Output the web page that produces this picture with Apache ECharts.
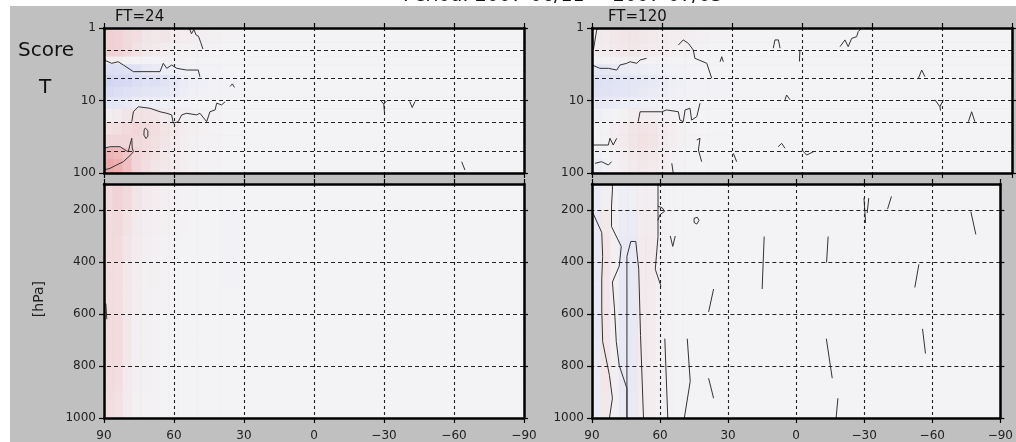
<!DOCTYPE html>
<html><head><meta charset="utf-8">
<script src="https://cdn.jsdelivr.net/npm/echarts@6/dist/echarts.min.js"></script>
<style>html,body{margin:0;padding:0;background:#fff}#c{width:1016px;height:442px}</style>
</head><body><div id="c"></div>
<script>
// ---------------- data ----------------
const titleText = 'Period: 2007-06/11 ~ 2007-07/03';
const panelTitles = ['FT=24', 'FT=120'];
const xTicks = [90, 60, 30, 0, -30, -60, -90];
const upperGridP = [2, 5, 10, 20, 50];
const lowerGridP = [200, 400, 600, 800];
const lowerLabels = [200, 400, 600, 800, 1000];

// cell edges (latitude, pressure hPa)
const latEdges = [90, 86, 82, 78, 74, 70, 66, 62, 58, 54, 50, 45, 40, 30, -90];
const upperEdges = [1, 1.6, 2.5, 3.2, 4.5, 6.5, 9, 13, 20, 30, 45, 65, 100];
const lowerEdges = [100, 200, 300, 400, 500, 600, 700, 800, 900, 1000];

// score field (positive = red, negative = blue), rows top->bottom, columns 90N -> 90S
const ft24Upper = [
  [0.30,0.28,0.22,0.18,0.12,0.10,0.12,0.08,0.05,0.05,0.04,0.03,0.02,0.01],
  [0.30,0.28,0.22,0.15,0.10,0.08,0.06,0.04,0.03,0.03,0.02,0.02,0.01,0.01],
  [0.05,0.05,0.02,0.00,-0.02,0.00,0.02,0.02,0.02,0.01,0.01,0.01,0.00,0.00],
  [-0.30,-0.30,-0.28,-0.25,-0.15,-0.12,-0.10,-0.08,-0.05,-0.03,-0.02,-0.01,0.00,0.00],
  [-0.45,-0.40,-0.38,-0.32,-0.28,-0.30,-0.25,-0.18,-0.12,-0.08,-0.05,-0.03,-0.01,0.00],
  [-0.35,-0.32,-0.28,-0.25,-0.22,-0.20,-0.18,-0.14,-0.10,-0.06,-0.04,-0.02,-0.01,0.00],
  [-0.20,-0.18,-0.15,-0.10,-0.08,-0.08,-0.06,-0.04,-0.02,0.00,0.00,0.00,0.00,0.00],
  [0.05,0.08,0.12,0.15,0.15,0.12,0.08,0.06,0.04,0.03,0.02,0.02,0.01,0.00],
  [0.15,0.18,0.22,0.25,0.22,0.18,0.14,0.10,0.06,0.04,0.03,0.02,0.01,0.00],
  [0.25,0.25,0.25,0.22,0.20,0.16,0.12,0.08,0.05,0.03,0.02,0.02,0.01,0.00],
  [0.55,0.50,0.40,0.25,0.20,0.15,0.10,0.08,0.05,0.03,0.02,0.02,0.01,0.00],
  [0.65,0.60,0.45,0.25,0.18,0.12,0.10,0.08,0.05,0.03,0.02,0.02,0.01,0.00]
];
const ft24Lower = [
  [0.22,0.28,0.22,0.12,0.08,0.05,0.04,0.03,0.02,0.02,0.01,0.01,0.00,0.00],
  [0.20,0.22,0.15,0.08,0.05,0.04,0.03,0.02,0.02,0.01,0.00,0.00,-0.02,0.00],
  [0.20,0.20,0.12,0.07,0.04,0.03,0.02,0.02,0.01,0.01,0.00,0.00,-0.02,0.00],
  [0.18,0.18,0.10,0.05,0.03,0.03,0.02,0.01,0.01,0.00,0.00,0.00,-0.01,0.00],
  [0.18,0.18,0.10,0.05,0.03,0.02,0.02,0.01,0.00,0.00,0.00,0.00,0.00,0.00],
  [0.20,0.20,0.10,0.04,0.03,0.02,0.01,0.01,0.00,0.00,0.00,0.00,0.00,0.00],
  [0.20,0.20,0.10,0.04,0.03,0.02,0.01,0.00,0.00,0.00,0.00,0.00,0.00,0.00],
  [0.20,0.18,0.08,0.04,0.03,0.02,0.01,0.00,0.00,0.00,0.00,0.00,0.00,0.00],
  [0.18,0.16,0.08,0.03,0.02,0.02,0.01,0.00,0.00,0.00,0.00,0.00,0.00,0.00]
];
const ft120Upper = [
  [0.05,0.08,0.10,0.12,0.12,0.10,0.08,0.06,0.05,0.05,0.04,0.03,0.02,0.01],
  [0.05,0.06,0.08,0.10,0.10,0.08,0.06,0.05,0.04,0.03,0.03,0.02,0.01,0.01],
  [0.00,0.00,0.02,0.03,0.03,0.02,0.02,0.02,0.01,0.01,0.01,0.00,0.00,0.00],
  [-0.18,-0.18,-0.15,-0.12,-0.10,-0.08,-0.06,-0.05,-0.03,-0.02,-0.01,0.00,0.00,0.00],
  [-0.28,-0.28,-0.25,-0.22,-0.20,-0.18,-0.16,-0.12,-0.08,-0.05,-0.03,-0.02,-0.01,0.00],
  [-0.25,-0.25,-0.22,-0.20,-0.18,-0.15,-0.12,-0.10,-0.06,-0.04,-0.03,-0.02,-0.01,0.00],
  [-0.15,-0.15,-0.12,-0.10,-0.08,-0.06,-0.04,-0.03,-0.02,-0.01,0.00,0.00,0.00,0.00],
  [-0.05,-0.02,0.00,0.03,0.05,0.06,0.06,0.04,0.03,0.02,0.01,0.01,0.00,0.00],
  [0.00,0.02,0.05,0.08,0.12,0.14,0.12,0.08,0.05,0.03,0.02,0.01,0.00,0.00],
  [0.00,0.02,0.05,0.08,0.12,0.15,0.12,0.08,0.05,0.03,0.02,0.01,0.00,0.00],
  [-0.05,0.00,0.03,0.06,0.10,0.12,0.10,0.06,0.04,0.02,0.01,0.01,0.00,0.00],
  [-0.08,-0.03,0.02,0.05,0.08,0.10,0.08,0.05,0.03,0.02,0.01,0.01,0.00,0.00]
];
const ft120Lower = [
  [-0.12,0.04,0.02,-0.08,-0.06,0.04,0.04,0.02,0.01,0.00,0.00,0.00,0.00,0.00],
  [-0.14,0.10,0.04,-0.12,-0.12,0.06,0.06,0.03,0.02,0.01,0.00,0.00,0.00,0.00],
  [-0.14,0.12,0.04,-0.15,-0.15,0.08,0.08,0.03,0.02,0.01,0.00,0.00,0.00,0.00],
  [-0.14,0.12,0.04,-0.15,-0.16,0.08,0.08,0.03,0.02,0.01,0.00,0.00,0.00,0.00],
  [-0.14,0.12,0.04,-0.16,-0.16,0.08,0.06,0.03,0.02,0.01,0.00,0.00,0.00,0.00],
  [-0.14,0.12,0.04,-0.16,-0.16,0.08,0.06,0.03,0.02,0.01,0.00,0.00,0.00,0.00],
  [-0.12,0.12,0.04,-0.16,-0.15,0.08,0.06,0.03,0.02,0.01,0.00,0.00,0.00,0.00],
  [-0.12,0.11,0.04,-0.15,-0.15,0.06,0.05,0.03,0.02,0.01,0.00,0.00,0.00,0.00],
  [-0.12,0.10,0.04,-0.14,-0.14,0.06,0.05,0.03,0.02,0.01,0.00,0.00,0.00,0.00]
];

// contour polylines [lat, hPa]
const ft24UpperContours = [
  [[90,2.76],[86.7,3.07],[83.9,2.92],[81.7,3.24],[77.4,4.0],[66,4.0],[64.6,3.07],[63.1,3.6],[61,3.24],[58.8,3.6],[54.6,3.8],[49.6,3.8],[48.9,4.7]],
  [[78.1,19.6],[77.4,14.3],[75.3,12.2],[70.3,12.8],[66,14.3],[63.1,15],[61,15.8],[60.3,20.6],[58.2,19.6],[56.7,15.8],[54.6,15],[50.3,15.8],[48.9,15],[46,19.6],[44.6,14.3],[42.4,13.5],[41.7,10.9],[39.6,11.5],[38.1,10.4]],
  [[90,45.6],[87.4,43.4],[83.1,43.4],[81,48.2],[79.6,50.9],[78.9,41.1],[78.1,33.2],[77.9,45],[77.4,51],[78.5,56],[81.7,69.8],[84.6,77.6],[87.4,86.2],[90,91]],
  [[53.5,1],[52.5,1.2],[51.5,1.05],[50.5,1.25],[49.5,1.3],[48.5,1.6],[47.6,1.95]],
  [[72.3,24],[71.2,26],[71.2,31],[72,33.5],[72.9,30],[72.8,25.5],[72.3,24]],
  [[36,6.4],[35,5.9],[34.1,6.6]],
  [[-28.8,10.2],[-29.9,11.2],[-31,10.2]],
  [[-29.9,11.2],[-30.2,14.5]],
  [[-41,10.3],[-42.1,12.5],[-43.3,10.3]],
  [[-63.3,70],[-64.7,91]]
];
const ft24LowerContours = [
  [[89.2,560],[88.8,620]]
];
const ft120UpperContours = [
  [[89.4,2.0],[88,1.07],[87.5,1]],
  [[90,3.24],[86.6,3.6],[83,3.6],[79.4,3.8],[78,3.24],[75.1,3.07],[73.7,2.92],[70.8,3.07],[69.4,2.76],[66.6,2.62]],
  [[53,1.72],[50.9,1.46],[48.7,1.63],[46.6,2.01],[45.9,2.62],[40.8,3.07],[38.7,4.94]],
  [[70.2,19.6],[69.4,14.3],[60.1,14.3],[58,13.5],[53,14.3],[52.3,18.6],[50.9,19.6],[50.1,13.5],[48,12.8],[47.3,18.6],[45.1,16.7],[43.7,10.9]],
  [[90,41.1],[83,41.1],[82.3,33.2],[80.9,41.1],[79.4,33.2]],
  [[88.7,73.5],[85.9,69.8],[83,77.6],[81.6,69.8]],
  [[45.1,35],[43.7,33.2],[44.4,48.2],[43,69.8]],
  [[35.1,2.92],[34.4,2.49],[33.7,2.92]],
  [[12.3,1.9],[11.6,1.46],[10.1,1.46],[9.4,1.9]],
  [[7.3,9.8],[6.6,8.4],[5.1,9.8]],
  [[0.9,2.0],[1.1,2.9]],
  [[10.2,43.4],[8.7,39],[7.3,45.6]],
  [[0.1,48.2],[-2,56.5],[-4.9,50.9]],
  [[-16.3,1.81],[-18.4,1.46],[-19.8,1.81],[-21.3,1.39],[-23.4,1.32],[-24.1,1.12],[-25.6,1.0]],
  [[-49.9,4.94],[-51.3,3.8],[-52.7,4.7]],
  [[-57,9.8],[-59.1,12.2],[-60.6,9.8]],
  [[-59.1,12.2],[-59.4,13.8]],
  [[-71.3,19.6],[-72.7,14.3],[-74.1,19.6]],
  [[29.4,53.6],[28,69.8]],
  [[55.8,73.5],[55.2,100]]
];
const ft120LowerContours = [
  [[89.6,211],[85.7,287],[85.3,378],[85.7,466],[85.7,580],[85.3,706],[82.3,836],[81,924],[82.3,1000]],
  [[81,100],[81,123],[81.4,188],[81.4,264],[77.1,340],[78,416],[81,477],[80.1,580],[79.3,706],[78,798],[74.6,886],[74.6,1000]],
  [[74.6,1000],[74.6,378],[72.9,321],[70.7,321],[69.4,428],[68.6,683],[67.3,1000]],
  [[60.9,100],[60.9,302],[62.1,428],[59.6,493]],
  [[61,185],[59,192],[58,205],[60,218],[61,240]],
  [[57.9,695],[56.6,1000]],
  [[48,695],[46.7,859],[49.3,1000]],
  [[45,232],[43.6,228],[42.8,240],[43.8,254],[45,248],[45,232]],
  [[55.5,300],[54.4,340],[53.3,300]],
  [[36.4,504],[38.6,592]],
  [[38.6,847],[36.4,924]],
  [[14.1,302],[15,504]],
  [[-14.1,302],[-13.4,402]],
  [[-13.3,695],[-15.9,847]],
  [[-18.4,924],[-17.6,1000]],
  [[-29.9,154],[-30.6,250]],
  [[-32,154],[-31.3,212]],
  [[-42,148],[-40.3,196]],
  [[-54.1,409],[-52.3,498]],
  [[-55.7,657],[-57,752]],
  [[-77,206],[-79.2,294]]
];

// ---------------- helpers ----------------
const BASE = [243, 243, 246], RED = [236, 128, 128], BLUE = [170, 178, 240];
function colorOf(v) {
  const t = Math.max(-1, Math.min(1, v));
  const end = t >= 0 ? RED : BLUE, a = Math.abs(t);
  const c = BASE.map((b, i) => Math.round(b + (end[i] - b) * a));
  return 'rgb(' + c.join(',') + ')';
}
function cells(pEdges, field) {
  const out = [];
  for (let r = 0; r < pEdges.length - 1; r++)
    for (let c = 0; c < latEdges.length - 1; c++)
      out.push([latEdges[c], latEdges[c + 1], pEdges[r], pEdges[r + 1], field[r][c]]);
  return out;
}
const FONT = '"DejaVu Sans", sans-serif';
const grids = [
  {left: 104, top: 28, width: 420, height: 145},
  {left: 104, top: 184, width: 420, height: 236},
  {left: 592, top: 28, width: 420, height: 145},
  {left: 592, top: 184, width: 420, height: 236}
];
const panels = [
  {upper: true, field: ft24Upper, edges: upperEdges, contours: ft24UpperContours},
  {upper: false, field: ft24Lower, edges: lowerEdges, contours: ft24LowerContours},
  {upper: true, field: ft120Upper, edges: upperEdges, contours: ft120UpperContours},
  {upper: false, field: ft120Lower, edges: lowerEdges, contours: ft120LowerContours}
];
const AXLINE = {show: true, onZero: false, lineStyle: {color: '#000', width: 2.5}};
const TICK = {show: true, inside: false, length: 5, lineStyle: {color: '#000', width: 1.2}};
const xAxes = [], yAxes = [], series = [];
const fmtLat = v => v < 0 ? '\u2212' + (-v) : String(v);
const fmtP = v => String(v);
panels.forEach((p, g) => {
  const xb = xAxes.length;
  xAxes.push({gridIndex: g, type: 'value', min: -90, max: 90, interval: 30, inverse: true, position: 'bottom', z: 10,
    axisLine: AXLINE, axisTick: TICK,
    axisLabel: {show: !p.upper, margin: 12, fontFamily: FONT, fontSize: 12, color: '#222', formatter: fmtLat},
    splitLine: {show: true, lineStyle: {type: [3, 3], color: '#222', width: 1.1}}});
  xAxes.push({gridIndex: g, type: 'value', min: -90, max: 90, interval: 30, inverse: true, position: 'top', z: 10,
    axisLine: AXLINE, axisTick: TICK, axisLabel: {show: false}, splitLine: {show: false}});
  const yl = yAxes.length;
  const yBase = p.upper
    ? {type: 'log', logBase: 10, min: 1, max: 100}
    : {type: 'value', min: 100, max: 1000, interval: 100};
  yAxes.push(Object.assign({gridIndex: g, inverse: true, position: 'left', z: 10,
    axisLine: AXLINE,
    axisTick: Object.assign({}, TICK, p.upper ? {} : {customValues: lowerLabels}),
    axisLabel: Object.assign({show: true, margin: 8, fontFamily: FONT, fontSize: 12, color: '#222', formatter: fmtP},
      p.upper ? {} : {customValues: lowerLabels}),
    splitLine: {show: false}}, yBase));
  yAxes.push(Object.assign({gridIndex: g, inverse: true, position: 'right', z: 10,
    axisLine: AXLINE,
    axisTick: Object.assign({}, TICK, {length: 4}, p.upper ? {} : {customValues: lowerLabels}),
    axisLabel: {show: false}, splitLine: {show: false}}, yBase));
  series.push({
    type: 'custom', xAxisIndex: xb, yAxisIndex: yl, z: 1, animation: false, silent: true,
    data: cells(p.edges, p.field),
    encode: {x: [0, 1], y: [2, 3]},
    renderItem: (params, api) => {
      const a = api.coord([api.value(0), api.value(2)]);
      const b = api.coord([api.value(1), api.value(3)]);
      const col = colorOf(api.value(4));
      return {type: 'rect',
        shape: {x: Math.min(a[0], b[0]), y: Math.min(a[1], b[1]), width: Math.abs(b[0] - a[0]), height: Math.abs(b[1] - a[1])},
        style: {fill: col, stroke: col, lineWidth: 0.6}};
    }
  });
  p.contours.forEach(line => series.push({
    type: 'line', xAxisIndex: xb, yAxisIndex: yl, z: 3, animation: false, silent: true,
    showSymbol: false, symbol: 'none', clip: true, data: line,
    lineStyle: {color: '#333', width: 1}
  }));
  series.push({
    type: 'line', xAxisIndex: xb, yAxisIndex: yl, z: 4, animation: false, silent: true, data: [],
    markLine: {silent: true, animation: false, symbol: ['none', 'none'], label: {show: false},
      lineStyle: {type: [4, 3], color: '#222', width: 1.1},
      data: (p.upper ? upperGridP : lowerGridP).map(v => ({yAxis: v}))}
  });
});

const chart = echarts.init(document.getElementById('c'), null, {renderer: 'canvas'});
chart.setOption({
  animation: false,
  backgroundColor: '#fff',
  grid: grids,
  xAxis: xAxes,
  yAxis: yAxes,
  series: series,
  graphic: [
    {type: 'rect', z: -1, silent: true, shape: {x: 10, y: 6, width: 1010, height: 440}, style: {fill: '#c0c0c0'}},
    {type: 'text', z: 20, left: 403, top: -13, style: {text: titleText, font: '19px ' + FONT, fill: '#111'}},
    {type: 'text', z: 20, left: 115, top: 10, style: {text: panelTitles[0], font: '15px ' + FONT, fill: '#111'}},
    {type: 'text', z: 20, left: 608, top: 10, style: {text: panelTitles[1], font: '15px ' + FONT, fill: '#111'}},
    {type: 'text', z: 20, left: 18, top: 41, style: {text: 'Score', font: '20px ' + FONT, fill: '#111'}},
    {type: 'text', z: 20, left: 39, top: 78, style: {text: 'T', font: '20px ' + FONT, fill: '#111'}},
    {type: 'text', z: 20, left: 32, top: 281, rotation: Math.PI / 2, style: {text: '[hPa]', font: '14px ' + FONT, fill: '#222'}}
  ]
});
</script></body></html>
